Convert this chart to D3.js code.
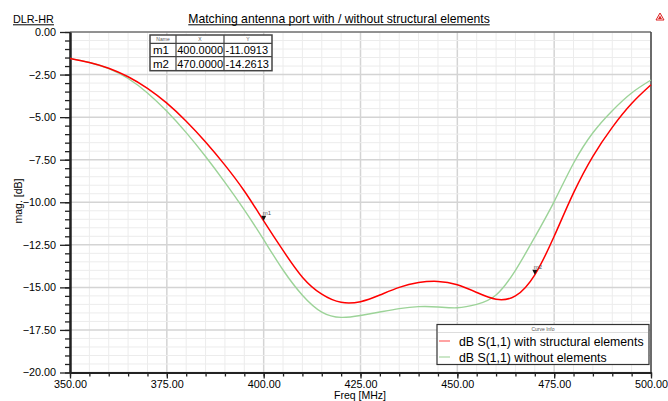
<!DOCTYPE html>
<html><head><meta charset="utf-8">
<script src="https://cdn.jsdelivr.net/npm/d3@7"></script>
<style>body{margin:0;background:#fff;} svg{display:block;font-family:"Liberation Sans",Arial,sans-serif;}</style>
</head><body><svg id="c" width="668" height="401"></svg>
<script>
const freqs = [350,355,360,365,370,375,380,385,390,395,400,405,410,415,420,425,430,435,440,445,450,455,460,465,470,475,480,485,490,495,500];
const withElements = [-1.55,-1.79,-2.13,-2.63,-3.31,-4.18,-5.24,-6.46,-7.82,-9.34,-11.09,-12.83,-14.4,-15.4,-15.88,-15.84,-15.45,-15.0,-14.72,-14.65,-14.85,-15.3,-15.7,-15.5,-14.26,-12.0,-9.45,-7.3,-5.6,-4.2,-3.1];
const withoutElements = [-1.55,-1.79,-2.15,-2.73,-3.58,-4.66,-5.91,-7.31,-8.83,-10.45,-12.2,-13.98,-15.46,-16.45,-16.76,-16.65,-16.45,-16.25,-16.13,-16.15,-16.2,-16.0,-15.45,-14.0,-12.05,-9.96,-7.71,-5.92,-4.62,-3.58,-2.82];
const xTicks = [350,375,400,425,450,475,500];
const yTicks = [0,-2.5,-5,-7.5,-10,-12.5,-15,-17.5,-20];
const seriesNames = ["dB S(1,1) with structural elements","dB S(1,1) without elements"];
const markerNames = ["m1","m2"];
const markerX = [400,470];
const markerY = [-11.0913,-14.2613];

const svg = d3.select("#c");
const L=70,R=651,T=32,B=372.5;
const x = d3.scaleLinear().domain([350,500]).range([L,R]);
const y = d3.scaleLinear().domain([0,-20]).range([T,B]);
const FS = 10.8;

// grid
const g = svg.append("g");
g.selectAll("line.mx").data(d3.range(350,500.1,5)).join("line")
 .attr("x1",d=>x(d)).attr("x2",d=>x(d)).attr("y1",T).attr("y2",B)
 .attr("stroke",d=>d%25===0?"#d4d4d4":"#ececec").attr("stroke-width",d=>d%25===0?1.5:1);
g.selectAll("line.my").data(d3.range(0,-20.01,-0.5)).join("line")
 .attr("y1",d=>y(d)).attr("y2",d=>y(d)).attr("x1",L).attr("x2",R)
 .attr("stroke",d=>Math.abs(d%2.5)<1e-6?"#d4d4d4":"#ececec").attr("stroke-width",d=>Math.abs(d%2.5)<1e-6?1.5:1);

// frame top/right
svg.append("line").attr("x1",L).attr("x2",R).attr("y1",T).attr("y2",T).attr("stroke","#444").attr("stroke-width",1);
svg.append("line").attr("x1",R).attr("x2",R).attr("y1",T).attr("y2",B).attr("stroke","#444").attr("stroke-width",1.5);

// axes
const xAxis = d3.axisBottom(x).tickValues(xTicks).tickFormat(d3.format(".2f")).tickSize(6).tickSizeOuter(0);
const xMinor = d3.axisBottom(x).tickValues(d3.range(350,500.1,5)).tickFormat("").tickSize(4).tickSizeOuter(0);
const yAxis = d3.axisLeft(y).tickValues(yTicks).tickFormat(d3.format(".2f")).tickSize(10).tickSizeOuter(0);
const yMinor = d3.axisLeft(y).tickValues(d3.range(0,-20.01,-0.5)).tickFormat("").tickSize(5).tickSizeOuter(0);
function style(sel){sel.selectAll("path").attr("stroke","#222").attr("stroke-width",2);sel.selectAll("line").attr("stroke","#222").attr("stroke-width",1.3);sel.selectAll("text").attr("fill","#000").attr("font-size",FS).attr("font-family","Liberation Sans, Arial, sans-serif");}
svg.append("g").attr("transform",`translate(0,${B})`).call(xMinor).call(style);
svg.append("g").attr("transform",`translate(0,${B})`).call(xAxis).call(style).selectAll("text").attr("dy","0.62em");
svg.append("g").attr("transform",`translate(${L},0)`).call(yMinor).call(style);
const ya = svg.append("g").attr("transform",`translate(${L},0)`).call(yAxis).call(style);
ya.selectAll("text").attr("x",-14);

// curves
const line = d3.line().x((d,i)=>x(freqs[i])).y(d=>y(d)).curve(d3.curveNatural);
svg.append("path").datum(withoutElements).attr("d",line).attr("fill","none").attr("stroke","#9cd398").attr("stroke-width",1.4);
svg.append("path").datum(withElements).attr("d",line).attr("fill","none").attr("stroke","#ff0000").attr("stroke-width",1.5);

// markers
markerX.forEach((mx,i)=>{
  const px=x(mx), py=y(markerY[i]);
  svg.append("path").attr("d",`M${px-2.5},${py-5}L${px+2.5},${py-5}L${px},${py}Z`).attr("fill","#111");
  svg.append("text").attr("x",px-1).attr("y",py-6).attr("font-size",6).attr("fill","#555").text(markerNames[i]);
});

// marker table
const tx=[150,176,224,272], ty=[35,43.3,56.7,70.7];
const tb = svg.append("g");
tb.append("rect").attr("x",tx[0]).attr("y",ty[0]).attr("width",tx[3]-tx[0]).attr("height",ty[3]-ty[0]).attr("fill","#fff").attr("stroke","#444").attr("stroke-width",1.5);
[tx[1],tx[2]].forEach(v=>tb.append("line").attr("x1",v).attr("x2",v).attr("y1",ty[0]).attr("y2",ty[3]).attr("stroke","#444").attr("stroke-width",1.2));
[ty[1],ty[2]].forEach(v=>tb.append("line").attr("y1",v).attr("y2",v).attr("x1",tx[0]).attr("x2",tx[3]).attr("stroke","#444").attr("stroke-width",1.2));
["Name","X","Y"].forEach((h,i)=>tb.append("text").attr("x",(tx[i]+tx[i+1])/2).attr("y",41).attr("text-anchor","middle").attr("font-size",5).attr("fill","#555").text(h));
markerNames.forEach((m,i)=>{
  const by = ty[i+1]+10.8;
  tb.append("text").attr("x",tx[0]+3).attr("y",by).attr("font-size",11.5).text(m);
  tb.append("text").attr("x",tx[1]+1.2).attr("y",by).attr("font-size",11).text(d3.format(".4f")(markerX[i]));
  tb.append("text").attr("x",tx[2]+1.5).attr("y",by).attr("font-size",11).text(d3.format(".4f")(markerY[i]).replace("\u2212","-"));
});

// legend
const lg = svg.append("g");
lg.append("rect").attr("x",437).attr("y",324.5).attr("width",212).attr("height",40).attr("fill","#fff").attr("stroke","#333").attr("stroke-width",1.2);
lg.append("line").attr("x1",438).attr("x2",648).attr("y1",332.5).attr("y2",332.5).attr("stroke","#ddd");
lg.append("text").attr("x",543).attr("y",330.5).attr("text-anchor","middle").attr("font-size",5).attr("fill","#555").text("Curve Info");
const lcol=["#ff6666","#a8d8a4"];
seriesNames.forEach((s,i)=>{
  const by = 345.5+i*16;
  lg.append("line").attr("x1",439).attr("x2",450).attr("y1",by-4.5).attr("y2",by-4.5).attr("stroke",lcol[i]).attr("stroke-width",1.2);
  lg.append("text").attr("x",459).attr("y",by).attr("font-size",12.3).text(s);
});

// titles
const title = svg.append("text").attr("x",339).attr("y",22.7).attr("text-anchor","middle").attr("font-size",12.2).text("Matching antenna port with / without structural elements");
const tbb = title.node().getBBox();
svg.append("line").attr("x1",tbb.x).attr("x2",tbb.x+tbb.width).attr("y1",24.8).attr("y2",24.8).attr("stroke","#000").attr("stroke-width",1);
const dl = svg.append("text").attr("x",13).attr("y",22.7).attr("font-size",10.8).text("DLR-HR");
const dbb = dl.node().getBBox();
svg.append("line").attr("x1",dbb.x).attr("x2",dbb.x+dbb.width).attr("y1",24.8).attr("y2",24.8).attr("stroke","#000").attr("stroke-width",1);
svg.append("text").attr("x",360).attr("y",399).attr("text-anchor","middle").attr("font-size",10.5).text("Freq [MHz]");
svg.append("text").attr("transform","translate(22,201) rotate(-90)").attr("text-anchor","middle").attr("font-size",10.5).text("mag. [dB]");

// small logo
const lo = svg.append("g").attr("transform","translate(660,20)");
lo.append("path").attr("d","M-4,0L0,-7L4,0Z").attr("fill","none").attr("stroke","#d22").attr("stroke-width",1);
lo.append("path").attr("d","M-2,-1L0,-4.5L2,-1Z").attr("fill","#d22");
</script></body></html>
